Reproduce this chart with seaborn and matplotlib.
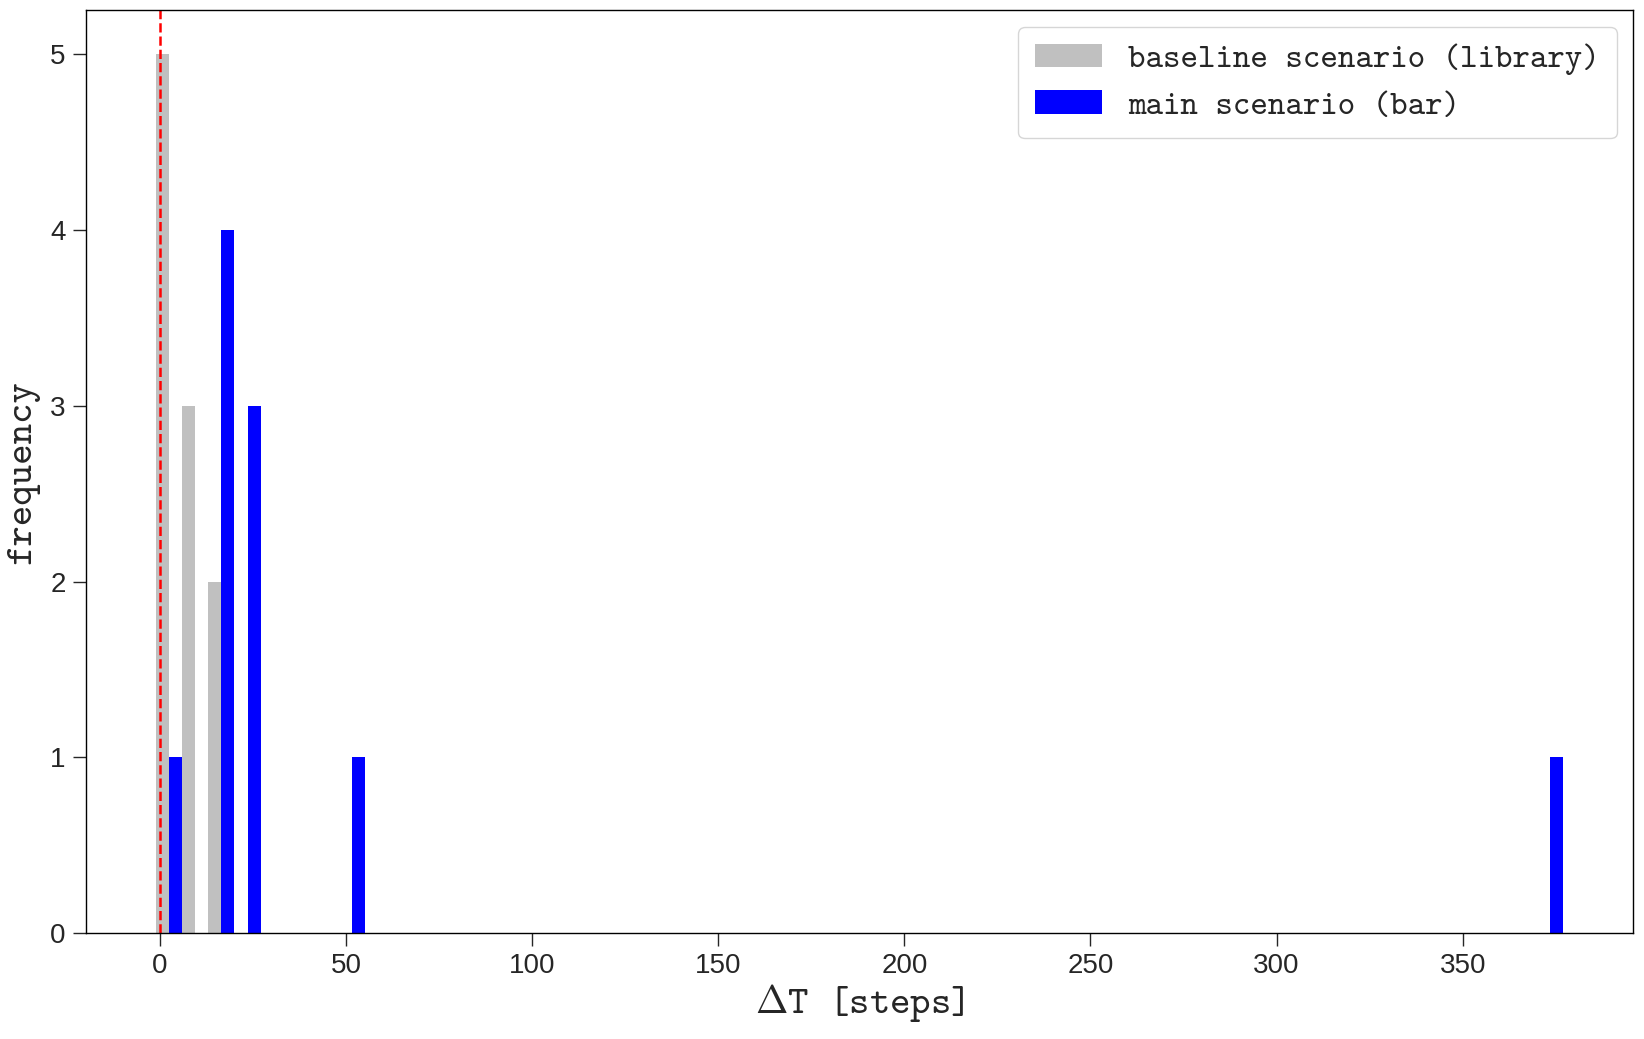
import seaborn as sns
import pandas as pd
import numpy as np
import matplotlib
matplotlib.use('Agg')
import matplotlib.pyplot as plt

# Delta T samples (steps)
baseline = [-1, 0, 0, 1, 2, 7, 8, 10, 14, 15]
main = [3, 16, 17, 18, 19, 22, 24, 26, 53, 377]
labels = ['baseline scenario (library)', 'main scenario (bar)']
colors = ['#c0c0c0', '#0000ff']
n_bins = 54

df = pd.DataFrame({
    'dT': baseline + main,
    'scenario': [labels[0]] * len(baseline) + [labels[1]] * len(main),
})

sns.set_style('ticks')
plt.rcParams['font.family'] = ['cmtt10', 'DejaVu Sans Mono']
plt.rcParams['mathtext.fontset'] = 'cm'
plt.rcParams['axes.unicode_minus'] = False

fig = plt.figure(figsize=(16.44, 10.39), dpi=100)
ax = fig.add_axes([0.0523, 0.102, 0.9413, 0.888])

sns.histplot(data=df, x='dT', hue='scenario', hue_order=labels,
             palette=colors, bins=n_bins, multiple='dodge',
             alpha=1, linewidth=0, ax=ax)

ax.axvline(0, color='red', ls='--', lw=1.8)

ax.set_xlabel(r'$\Delta$T [steps]', fontsize=28, labelpad=2)
ax.set_ylabel('frequency', fontsize=28, labelpad=8)
ax.set_xticks(np.arange(0, 351, 50))
ax.set_yticks(range(0, 6))
ax.tick_params(axis='both', length=9.5, width=1, pad=5, direction='out')
for lab in ax.get_xticklabels() + ax.get_yticklabels():
    lab.set_fontfamily('Liberation Sans')
    lab.set_fontsize(20)
for s in ax.spines.values():
    s.set_visible(True)
    s.set_color('black')
    s.set_linewidth(1)

sns.move_legend(ax, 'upper right', title=None, fontsize=24, frameon=True,
                handlelength=2.0, handleheight=0.7, borderpad=0.5,
                handletextpad=0.8, labelspacing=0.45)

fig.savefig('out.png', dpi=100)
